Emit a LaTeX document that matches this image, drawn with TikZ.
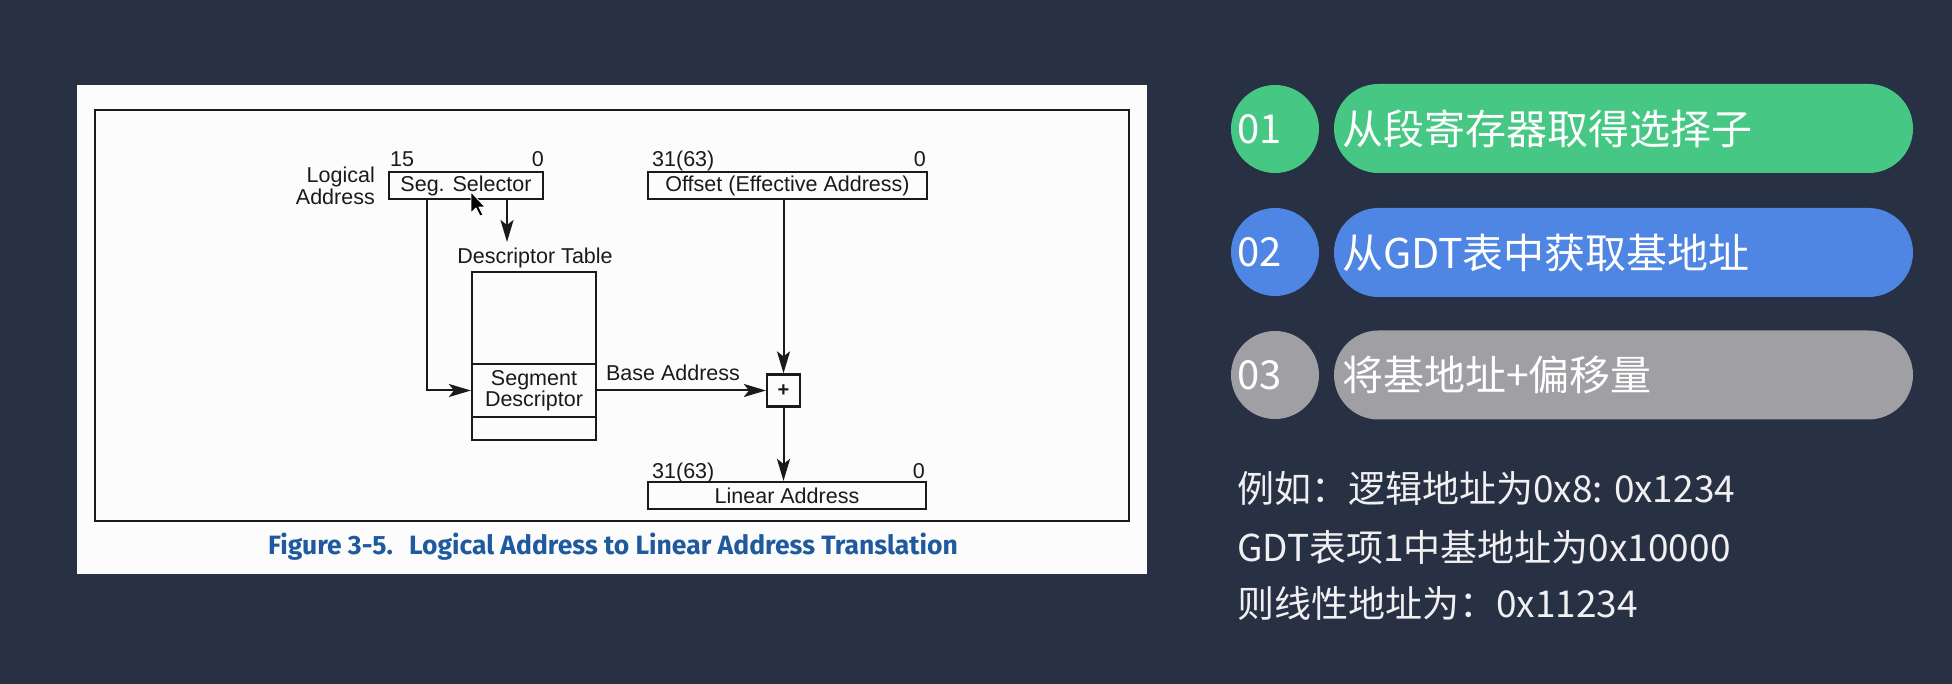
\documentclass[tikz,border=0pt]{standalone}
\usepackage{fontspec}
\setmainfont{Liberation Sans}
\newfontfamily\cjk{Noto Sans CJK SC}
\newfontfamily\capfont{Fira Sans}
\usetikzlibrary{arrows.meta}
\definecolor{bg}{HTML}{283043}
\definecolor{panel}{HTML}{FCFCFC}
\definecolor{ink}{HTML}{1A1A1A}
\definecolor{capblue}{HTML}{1F5A9E}
\definecolor{stepgreen}{HTML}{46C884}
\definecolor{stepblue}{HTML}{4F86E4}
\definecolor{stepgray}{HTML}{A09FA3}

\begin{document}
\begin{tikzpicture}[x=1pt,y=-1pt,
  diag/.style={font=\fontsize{21.5}{22}\selectfont, text=ink},
  regbox/.style={draw=ink, line width=2.2pt, inner sep=0pt, diag},
  lbl/.style={diag, inner sep=0pt},
  arr/.style={draw=ink, line width=2pt, -{Stealth[length=22pt,width=13pt,inset=5pt]}},
  pill/.style={rounded corners=44.5pt, minimum width=579pt, minimum height=89pt,
    inner xsep=8pt, inner ysep=0pt, text width=563pt, align=left, text=white,
    font=\cjk\fontsize{41}{45}\selectfont},
  stepdot/.style={circle, minimum size=88pt, inner sep=0pt},
  stepnum/.style={anchor=west, inner sep=0pt, text=white, font=\cjk\fontsize{40}{44}\selectfont},
  note/.style={anchor=base west, inner sep=0pt, text=white!93!bg, font=\cjk\fontsize{37}{40}\selectfont},
]
% canvas and figure panel
\fill[bg] (0,0) rectangle (1952,684);
\useasboundingbox (0,0) rectangle (1952,684);
\fill[panel] (77,85) rectangle (1147,574);
\draw[ink, line width=2pt] (95,110) rectangle (1129,521);

% registers
\node[regbox, minimum width=154pt, minimum height=27pt] (sel) at (466,185.5) {Seg. Selector};
\node[regbox, minimum width=279pt, minimum height=27pt] (off) at (787.5,185.5) {Offset (Effective Address)};
\node[regbox, minimum width=278pt, minimum height=27pt] (lin) at (787,495.5) {Linear Address};

% bit numbers and side labels
\node[lbl, anchor=base west] (selhi) at (390,167) {15};
\node[lbl, anchor=base east] (sello) at (544,167) {0};
\node[lbl, anchor=base west] (offhi) at (652,167) {31(63)};
\node[lbl, anchor=base east] (offlo) at (926,167) {0};
\node[lbl, anchor=base west] (linhi) at (652,478) {31(63)};
\node[lbl, anchor=base east] (linlo) at (925,478) {0};
\node[lbl, anchor=east, align=right, font=\fontsize{21.5}{22}\selectfont] (logl) at (375,186) {Logical\\Address};

% descriptor table
\node[lbl, anchor=base] (dtlabel) at (535,264) {Descriptor Table};
\node[regbox, minimum width=124pt, minimum height=168pt] (dtab) at (534,356) {};
\node[regbox, minimum width=124pt, minimum height=53pt, align=center,
  font=\fontsize{21.5}{21}\selectfont] (segdesc) at (534,390.5) {Segment\\Descriptor};

% adder
\node[regbox, minimum width=33pt, minimum height=32pt, font=\bfseries\fontsize{20}{22}\selectfont] (plus) at (783.5,390.5) {+};
\node[lbl, anchor=base] (balabel) at (673,381) {Base Address};

% connectors
\coordinate (selidx) at (427,0);
\coordinate (seltab) at (507,242);
\draw[arr] (sel.south -| selidx) |- (segdesc.west);
\draw[arr] (sel.south -| seltab) -- (seltab);
\draw[arr] (segdesc.east) -- (plus.west);
\draw[arr] (off.south -| plus.north) -- (plus.north);
\draw[arr] (plus.south) -- (lin.north -| plus.south);

% pointer
\filldraw[fill=black, draw=white, line width=0.8pt, line join=round]
  (471,192) -- (471,213) -- (476,208) -- (480,216) -- (483,215) -- (479,207) -- (485,207) -- cycle;

% caption
\node[inner sep=0pt, text=capblue, font=\capfont\bfseries\fontsize{26.5}{28}\selectfont] (cap) at (613,547)
  {Figure 3-5.\hspace{0.3em} Logical Address to Linear Address Translation};

% steps
\node[stepdot, fill=stepgreen] (c1) at (1275,129) {};
\node[stepnum] (n1) at (1237,129) {01};
\node[pill, fill=stepgreen] (p1) at (1623.5,128.5) {从段寄存器取得选择子};

\node[stepdot, fill=stepblue] (c2) at (1275,252) {};
\node[stepnum] (n2) at (1237,252) {02};
\node[pill, fill=stepblue] (p2) at (1623.5,252.5) {从GDT表中获取基地址};

\node[stepdot, fill=stepgray] (c3) at (1275,375) {};
\node[stepnum] (n3) at (1237,375) {03};
\node[pill, fill=stepgray] (p3) at (1623.5,375) {将基地址+偏移量};

% worked example
\node[note] (e1) at (1237,502) {例如：逻辑地址为0x8: 0x1234};
\node[note] (e2) at (1237,561) {GDT表项1中基地址为0x10000};
\node[note] (e3) at (1237,617) {则线性地址为：0x11234};
\end{tikzpicture}
\end{document}
